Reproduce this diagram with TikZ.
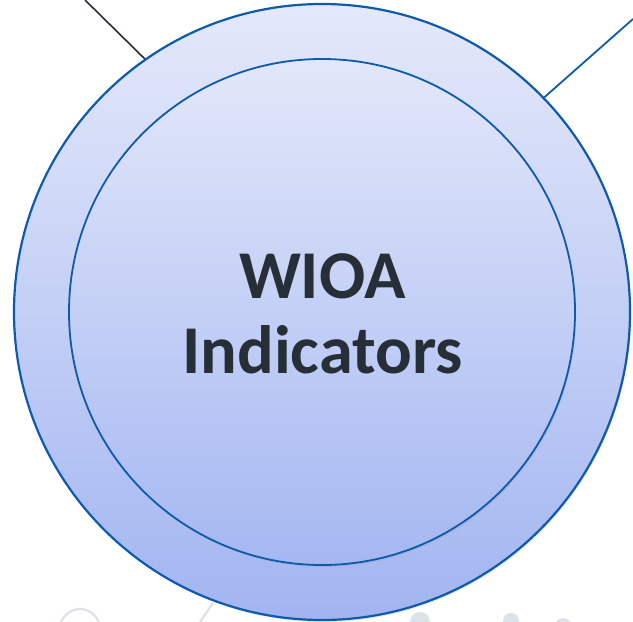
\documentclass[tikz,border=0pt]{standalone}
\usepackage{fontspec}
\setmainfont{Carlito}
\usetikzlibrary{positioning,shadows}
\definecolor{ringline}{HTML}{0E5AAB}
\definecolor{ringtop}{HTML}{E4E9FA}
\definecolor{ringbottom}{HTML}{A2B5F1}
\definecolor{labeltext}{HTML}{262F38}
\definecolor{faintgray}{HTML}{DCE2E6}

\begin{document}
\begin{tikzpicture}[x=0.5pt,y=-0.5pt]
            \tikzset{ring/.style={draw=ringline, circle, inner sep=0pt, shading=axis,
                        top color=ringtop, bottom color=ringbottom,
                        drop shadow={shadow xshift=0.6pt, shadow yshift=-1pt, opacity=0.18}},
                     faint/.style={draw=faintgray, line width=1.1pt}}
            \useasboundingbox (0,0) rectangle (633,622);
            \draw[faint] (80,629) circle[radius=20];
            \draw[faint] (213,603) -- (200,622);
            \fill[faintgray] (420,622) circle[radius=10];
            \fill[faintgray] (511,621) circle[radius=8];
            \fill[faintgray] (563,626) circle[radius=8];
            \node[ring, line width=1.1pt, minimum size=308pt] (outer) at (322,312) {};
            \node[ring, line width=0.9pt, minimum size=253pt, top color=ringtop!97!ringbottom,
                  bottom color=ringbottom!95!ringtop] (inner) at (322,312) {};
            \node[text=labeltext, font=\fontsize{34.2}{37.5}\selectfont\bfseries, align=center]
                (label) at (322.5,314) {WIOA\\Indicators};
            \coordinate (topleft) at (85,0);
            \coordinate (topright) at (633,19);
            \draw[labeltext, line width=0.8pt] (topleft) -- (outer.125);
            \draw[ringline, line width=0.9pt] (topright) -- (outer.44.5);
        \end{tikzpicture}
\end{document}
